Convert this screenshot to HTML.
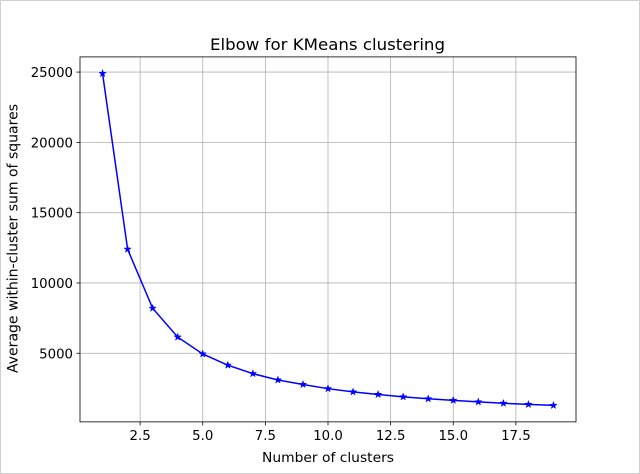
<!DOCTYPE html>
<html><head><meta charset="utf-8"><style>
body{margin:0;background:#fff;}
svg{display:block;font-family:"DejaVu Sans","Liberation Sans",sans-serif;}
</style></head><body>
<svg id="s" width="640" height="474" xmlns="http://www.w3.org/2000/svg">
<rect x="0.5" y="0.5" width="639" height="473" fill="#fff" stroke="#d0d0d0"/>
<g id="grid"></g>
<g id="plot"></g>
<rect x="80" y="56.9" width="496" height="364.96" fill="none" stroke="#000" stroke-width="0.8"/>
<g id="ticks" font-size="13.3"></g>
<text x="327.5" y="50" font-size="16" text-anchor="middle" textLength="235" lengthAdjust="spacingAndGlyphs">Elbow for KMeans clustering</text>
<text x="328" y="462" font-size="13.3" text-anchor="middle" textLength="132" lengthAdjust="spacingAndGlyphs">Number of clusters</text>
<text transform="translate(17.5,238.5) rotate(-90)" font-size="13.9" text-anchor="middle" textLength="269" lengthAdjust="spacingAndGlyphs">Average within-cluster sum of squares</text>
</svg>
<script>
const NS="http://www.w3.org/2000/svg";
const X=v=>80+(v-0.1)*496/19.8;
const Y=v=>421.86-(v-120)*364.96/25960;
function el(p,t,a,txt){const e=document.createElementNS(NS,t);for(const k in a)e.setAttribute(k,a[k]);if(txt)e.textContent=txt;document.getElementById(p).appendChild(e);}
[2.5,5,7.5,10,12.5,15,17.5].forEach(v=>{const x=X(v);
el('grid','line',{x1:x,x2:x,y1:56.9,y2:421.86,stroke:'#b0b0b0','stroke-width':0.8});
el('ticks','line',{x1:x,x2:x,y1:421.86,y2:425.4,stroke:'#000','stroke-width':0.8});
el('ticks','text',{x:x,y:440,'text-anchor':'middle'},v.toFixed(1));});
[5000,10000,15000,20000,25000].forEach(v=>{const y=Y(v);
el('grid','line',{x1:80,x2:576,y1:y,y2:y,stroke:'#b0b0b0','stroke-width':0.8});
el('ticks','line',{x1:76.5,x2:80,y1:y,y2:y,stroke:'#000','stroke-width':0.8});
el('ticks','text',{x:73,y:y+5,'text-anchor':'end'},String(v));});
const d=[24900,12400,8200,6150,4950,4150,3550,3100,2780,2480,2250,2070,1900,1760,1650,1540,1440,1360,1290];
const pts=d.map((v,i)=>[X(i+1),Y(v)]);
el('plot','polyline',{points:pts.map(p=>p.join(',')).join(' '),fill:'none',stroke:'#0000ff','stroke-width':1.5});
pts.forEach(([x,y])=>{let s=[];for(let k=0;k<10;k++){const r=k%2?1.5:3.8,a=-Math.PI/2+k*Math.PI/5;s.push((x+r*Math.cos(a)).toFixed(2)+','+(y+r*Math.sin(a)).toFixed(2));}
el('plot','polygon',{points:s.join(' '),fill:'#0000ff',stroke:'#0000ff','stroke-width':0.5});});
</script>
</body></html>
